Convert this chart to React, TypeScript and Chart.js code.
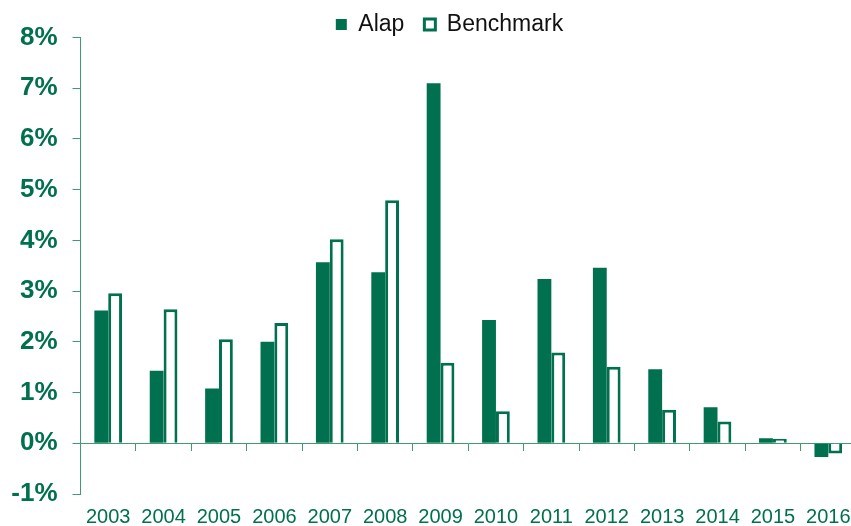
import React, { useEffect, useRef } from "react";
import { Chart, registerables } from "chart.js";

Chart.register(...registerables);

const categories = ["2003", "2004", "2005", "2006", "2007", "2008", "2009", "2010", "2011", "2012", "2013", "2014", "2015", "2016"];
const alapValues = [2.62, 1.43, 1.08, 2.0, 3.57, 3.37, 7.1, 2.43, 3.24, 3.46, 1.46, 0.71, 0.1, -0.27];
const benchmarkValues = [2.96, 2.64, 2.05, 2.37, 4.02, 4.79, 1.59, 0.63, 1.79, 1.51, 0.66, 0.43, 0.09, -0.2];
const yMin = -1;
const yMax = 8;

const GREEN = "#00704E";
const AXIS = "#3E9C70";
const FONT = "'Liberation Sans', Arial, sans-serif";

// lets the narrowed y axis draw its labels to the left of its box
const unclipYLabels = {
  id: "unclipYLabels",
  beforeDraw(chart: any) {
    if (chart.scales.y) chart.scales.y.left = 0;
  },
};

export default function App() {
  const ref = useRef<HTMLCanvasElement | null>(null);

  useEffect(() => {
    if (!ref.current) return;
    const chart = new Chart(ref.current, {
      type: "bar",
      data: {
        labels: categories,
        datasets: [
          {
            label: "Alap",
            data: alapValues,
            backgroundColor: GREEN,
            borderColor: GREEN,
            borderWidth: 0,
            barPercentage: 1,
            categoryPercentage: 0.5,
          },
          {
            label: "Benchmark",
            data: benchmarkValues,
            backgroundColor: "#FFFFFF",
            borderColor: GREEN,
            borderWidth: 3,
            barPercentage: 1,
            categoryPercentage: 0.5,
          },
        ],
      },
      plugins: [unclipYLabels],
      options: {
        animation: false,
        responsive: true,
        maintainAspectRatio: false,
        layout: { padding: { left: 43, right: 0, top: -7, bottom: -3 } },
        plugins: {
          legend: {
            position: "top",
            maxHeight: 44.5,
            labels: {
              boxWidth: 11,
              boxHeight: 11,
              padding: 20,
              color: "#111111",
              font: { family: FONT, size: 23 },
            },
          },
          tooltip: { enabled: false },
        },
        scales: {
          x: {
            type: "category",
            offset: true,
            grid: { display: true, drawOnChartArea: false, drawTicks: true, tickLength: 11, color: "rgba(0,0,0,0)" },
            border: { display: false },
            ticks: {
              color: GREEN,
              padding: 0,
              maxRotation: 0,
              autoSkip: false,
              font: { family: FONT, size: 20 },
            },
          },
          x2: {
            type: "category",
            labels: categories,
            offset: true,
            position: { y: 0 },
            grid: { offset: true, drawOnChartArea: false, drawTicks: true, tickLength: 7, color: AXIS, lineWidth: 1 },
            border: { display: true, color: AXIS, width: 1 },
            ticks: { display: false, padding: 0 },
            afterFit: (scale: any) => {
              scale.height = 0;
            },
          },
          y: {
            min: yMin,
            max: yMax,
            grid: { drawOnChartArea: false, drawTicks: true, tickLength: 8, color: AXIS },
            border: { display: true, color: AXIS, width: 1 },
            ticks: {
              stepSize: 1,
              padding: 15,
              color: GREEN,
              font: { family: FONT, size: 26, weight: "bold" },
              callback: (v: any) => `${v}%`,
            },
            afterFit: (scale: any) => {
              scale.width = 37.5;
            },
          },
        },
      },
    });
    return () => chart.destroy();
  }, []);

  return (
    <div style={{ position: "fixed", left: 0, top: 0, width: 851, height: 526, overflow: "hidden", background: "#fff" }}>
      <div style={{ position: "relative", width: 856, height: 526 }}>
        <canvas ref={ref} />
      </div>
    </div>
  );
}
